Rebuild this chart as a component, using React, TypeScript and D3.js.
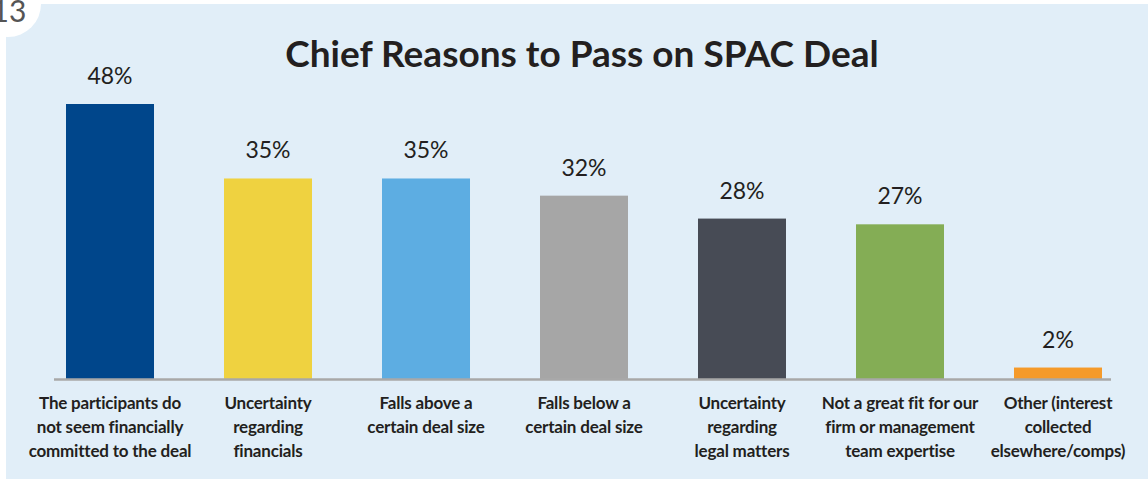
import { useEffect, useRef } from "react";
import * as d3 from "d3";

const categories = [
  ["The participants do", "not seem financially", "committed to the deal"],
  ["Uncertainty", "regarding", "financials"],
  ["Falls above a", "certain deal size"],
  ["Falls below a", "certain deal size"],
  ["Uncertainty", "regarding", "legal matters"],
  ["Not a great fit for our", "firm or management", "team expertise"],
  ["Other (interest", "collected", "elsewhere/comps)"],
];
const values = [48, 35, 35, 32, 28, 27, 2];
const colors = ["#00468b", "#efd240", "#5dade2", "#a6a6a6", "#474b55", "#84ad55", "#f59a2a"];
const title = "Chief Reasons to Pass on SPAC Deal";

const W = 1148;
const H = 479;

const App = () => {
  const svgRef = useRef<SVGSVGElement>(null);

  useEffect(() => {
    if (!svgRef.current) return;
    const svg = d3.select(svgRef.current);
    svg.selectAll("*").remove();

    const font = "Lato, 'Open Sans', sans-serif";
    const baseY = 379;

    // panel
    svg.append("rect").attr("width", W).attr("height", H).attr("fill", "#ffffff");
    svg.append("rect").attr("x", 6).attr("y", 4).attr("width", W - 6).attr("height", H - 4).attr("fill", "#e1eef8");

    // badge
    svg.append("circle").attr("cx", 8).attr("cy", 4).attr("r", 33).attr("fill", "#ffffff");
    svg.append("text")
      .attr("x", 9).attr("y", 22)
      .attr("text-anchor", "middle")
      .attr("font-family", font)
      .attr("font-size", 30)
      .attr("fill", "#555")
      .text("13");

    svg.append("text")
      .attr("x", 582).attr("y", 67)
      .attr("text-anchor", "middle")
      .attr("font-family", font)
      .attr("font-weight", 700)
      .attr("font-size", 37)
      .attr("fill", "#231f20")
      .text(title);

    const idx = values.map((_, i) => String(i));
    const x = d3.scaleBand().domain(idx).range([66, 1102]).paddingInner(0.443).paddingOuter(0);
    const y = d3.scaleLinear().domain([0, 48]).range([baseY, 104]);

    const g = svg.append("g");
    g.selectAll("rect.bar")
      .data(values)
      .join("rect")
      .attr("class", "bar")
      .attr("x", (_, i) => x(String(i))!)
      .attr("y", (d) => y(d))
      .attr("width", x.bandwidth())
      .attr("height", (d) => baseY - y(d))
      .attr("fill", (_, i) => colors[i]);

    g.selectAll("text.value")
      .data(values)
      .join("text")
      .attr("class", "value")
      .attr("x", (_, i) => x(String(i))! + x.bandwidth() / 2)
      .attr("y", (d) => y(d) - 20)
      .attr("text-anchor", "middle")
      .attr("font-family", font)
      .attr("font-size", 23)
      .attr("fill", "#231f20")
      .text((d) => `${d}%`);

    svg.append("line")
      .attr("x1", 54).attr("x2", 1111)
      .attr("y1", baseY + 0.5).attr("y2", baseY + 0.5)
      .attr("stroke", "#a8a8a8")
      .attr("stroke-width", 2.5);

    const labels = svg.selectAll("text.cat")
      .data(categories)
      .join("text")
      .attr("class", "cat")
      .attr("text-anchor", "middle")
      .attr("font-family", font)
      .attr("font-weight", 700)
      .attr("font-size", 17)
      .attr("letter-spacing", -0.2)
      .attr("fill", "#231f20");
    labels.each(function (lines, i) {
      const cx = x(String(i))! + x.bandwidth() / 2;
      d3.select(this)
        .selectAll("tspan")
        .data(lines)
        .join("tspan")
        .attr("x", cx)
        .attr("y", (_, j) => 409 + j * 24)
        .text((d) => d);
    });
  }, []);

  return (
    <svg
      ref={svgRef}
      width={W}
      height={H}
      style={{ position: "absolute", left: 0, top: 0, display: "block" }}
    />
  );
};

export default App;
